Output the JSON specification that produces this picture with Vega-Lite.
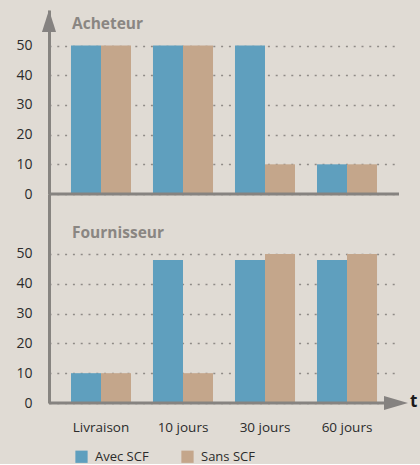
{
  "$schema": "https://vega.github.io/schema/vega-lite/v6.json",
  "background": "#e0dbd4",
  "padding": {"left": 15, "top": 10, "right": 5, "bottom": 0},
  "bounds": "flush",
  "spacing": 0,
  "config": {"view": {"stroke": null}, "font": "Open Sans",
    "axisY": {"title": null, "domainColor": "#878480", "domainWidth": 3, "ticks": false, "labelPadding": 17, "labelFontSize": 14, "labelColor": "#2b2b2b", "grid": true, "gridColor": "#8f8b87", "gridDash": [2, 5.8], "gridWidth": 1.5, "labelOverlap": false}
  },
  "datasets": {
    "acheteur": [
      {"cat": "Livraison", "serie": "Avec SCF", "v": 50},
      {"cat": "Livraison", "serie": "Sans SCF", "v": 50},
      {"cat": "10 jours", "serie": "Avec SCF", "v": 50},
      {"cat": "10 jours", "serie": "Sans SCF", "v": 50},
      {"cat": "30 jours", "serie": "Avec SCF", "v": 50},
      {"cat": "30 jours", "serie": "Sans SCF", "v": 10},
      {"cat": "60 jours", "serie": "Avec SCF", "v": 10},
      {"cat": "60 jours", "serie": "Sans SCF", "v": 10}
    ],
    "fournisseur": [
      {"cat": "Livraison", "serie": "Avec SCF", "v": 10},
      {"cat": "Livraison", "serie": "Sans SCF", "v": 10},
      {"cat": "10 jours", "serie": "Avec SCF", "v": 48},
      {"cat": "10 jours", "serie": "Sans SCF", "v": 10},
      {"cat": "30 jours", "serie": "Avec SCF", "v": 48},
      {"cat": "30 jours", "serie": "Sans SCF", "v": 50},
      {"cat": "60 jours", "serie": "Avec SCF", "v": 48},
      {"cat": "60 jours", "serie": "Sans SCF", "v": 50}
    ],
    "one": [{"k": 1}]
  },
  "vconcat": [
    {
      "width": 350,
      "height": 184,
      "layer": [
        {
          "data": {"name": "acheteur"},
          "mark": {"type": "bar"},
          "encoding": {
            "x": {"field": "cat", "type": "nominal", "scale": {"domain": ["Livraison", "10 jours", "30 jours", "60 jours"], "paddingInner": 0.268, "paddingOuter": 0.268}, "axis": null},
            "xOffset": {"field": "serie", "type": "nominal", "scale": {"domain": ["Avec SCF", "Sans SCF"]}},
            "y": {"field": "v", "type": "quantitative", "scale": {"domain": [0, 62], "nice": false}, "axis": {"values": [0, 10, 20, 30, 40, 50]}},
            "color": {"field": "serie", "type": "nominal", "scale": {"domain": ["Avec SCF", "Sans SCF"], "range": ["#5f9fbe", "#c4a68b"]},
              "legend": {"orient": "none", "legendX": 26, "legendY": 440, "direction": "horizontal", "title": null, "symbolType": "square", "symbolSize": 150, "symbolStrokeWidth": 0, "symbolOpacity": 1, "labelFontSize": 13, "labelColor": "#2b2b2b", "columnPadding": 32, "labelOffset": 7, "padding": 0}}
          }
        },
        {
          "data": {"name": "one"},
          "mark": {"type": "rule", "color": "#868380", "strokeWidth": 3},
          "encoding": {"y": {"datum": 0, "type": "quantitative", "scale": {"domain": [0, 62], "nice": false}, "axis": {"values": [0, 10, 20, 30, 40, 50]}}}
        },
        {
          "data": {"name": "one"},
          "mark": {"type": "text", "text": "Acheteur", "align": "left", "baseline": "alphabetic", "fontSize": 15.5, "fontWeight": "bold", "color": "#8a8682", "dx": 1},
          "encoding": {
            "x": {"datum": "Livraison", "type": "nominal", "bandPosition": 0, "scale": {"type": "band", "domain": ["Livraison", "10 jours", "30 jours", "60 jours"], "paddingInner": 0.268, "paddingOuter": 0.268}, "axis": null},
            "y": {"datum": 55.5, "type": "quantitative", "scale": {"domain": [0, 62], "nice": false}, "axis": {"values": [0, 10, 20, 30, 40, 50]}}
          }
        },
        {
          "data": {"name": "one"},
          "mark": {"type": "point", "shape": "M0,0L0.64,2L-0.64,2Z", "size": 484, "filled": true, "color": "#858280", "opacity": 1},
          "encoding": {
            "x": {"datum": 0, "type": "quantitative", "scale": {"domain": [0, 1]}, "axis": null},
            "y": {"datum": 62, "type": "quantitative", "scale": {"domain": [0, 62], "nice": false}, "axis": {"values": [0, 10, 20, 30, 40, 50]}}
          }
        }
      ],
      "resolve": {"scale": {"x": "independent"}}
    },
    {
      "width": 350,
      "height": 209,
      "layer": [
        {
          "data": {"name": "fournisseur"},
          "mark": {"type": "bar"},
          "encoding": {
            "x": {"field": "cat", "type": "nominal", "scale": {"domain": ["Livraison", "10 jours", "30 jours", "60 jours"], "paddingInner": 0.268, "paddingOuter": 0.268},
              "axis": {"title": null, "domain": false, "ticks": false, "labelPadding": 17, "labelFontSize": 13.5, "labelColor": "#2b2b2b", "labelAngle": 0}},
            "xOffset": {"field": "serie", "type": "nominal", "scale": {"domain": ["Avec SCF", "Sans SCF"]}},
            "y": {"field": "v", "type": "quantitative", "scale": {"domain": [0, 70.1], "nice": false}, "axis": {"values": [0, 10, 20, 30, 40, 50]}},
            "color": {"field": "serie", "type": "nominal", "scale": {"domain": ["Avec SCF", "Sans SCF"], "range": ["#5f9fbe", "#c4a68b"]}}
          }
        },
        {
          "data": {"name": "one"},
          "mark": {"type": "rule", "color": "#868380", "strokeWidth": 3},
          "encoding": {"y": {"datum": 0, "type": "quantitative", "scale": {"domain": [0, 70.1], "nice": false}, "axis": {"values": [0, 10, 20, 30, 40, 50]}}}
        },
        {
          "data": {"name": "one"},
          "mark": {"type": "text", "text": "Fournisseur", "align": "left", "baseline": "alphabetic", "fontSize": 15.5, "fontWeight": "bold", "color": "#8a8682", "dx": 1},
          "encoding": {
            "x": {"datum": "Livraison", "type": "nominal", "bandPosition": 0, "scale": {"type": "band", "domain": ["Livraison", "10 jours", "30 jours", "60 jours"], "paddingInner": 0.268, "paddingOuter": 0.268}, "axis": null},
            "y": {"datum": 55.5, "type": "quantitative", "scale": {"domain": [0, 70.1], "nice": false}, "axis": {"values": [0, 10, 20, 30, 40, 50]}}
          }
        },
        {
          "data": {"name": "one"},
          "mark": {"type": "point", "shape": "M0.75,0L-1.25,0.58L-1.25,-0.58Z", "size": 576, "filled": true, "color": "#858280", "opacity": 1},
          "encoding": {
            "x": {"datum": 1, "type": "quantitative", "scale": {"domain": [0, 1]}, "axis": null},
            "y": {"datum": 0, "type": "quantitative", "scale": {"domain": [0, 70.1], "nice": false}, "axis": {"values": [0, 10, 20, 30, 40, 50]}}
          }
        },
        {
          "data": {"name": "one"},
          "mark": {"type": "text", "text": "t", "align": "left", "baseline": "middle", "fontSize": 17, "fontWeight": "bold", "color": "#1a1a1a", "dx": 11, "dy": -1},
          "encoding": {
            "x": {"datum": 1, "type": "quantitative", "scale": {"domain": [0, 1]}, "axis": null},
            "y": {"datum": 0, "type": "quantitative", "scale": {"domain": [0, 70.1], "nice": false}, "axis": {"values": [0, 10, 20, 30, 40, 50]}}
          }
        }
      ],
      "resolve": {"scale": {"x": "independent"}}
    }
  ]
}
